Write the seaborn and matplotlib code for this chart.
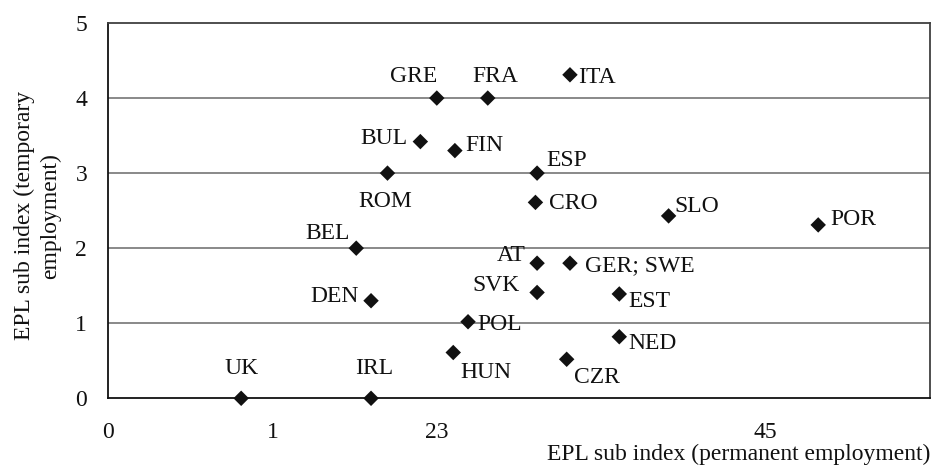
import matplotlib
matplotlib.use("Agg")
import matplotlib.pyplot as plt
import seaborn as sns
import pandas as pd

# ---- data ----
countries = ["UK", "IRL", "DEN", "BEL", "ROM", "BUL", "GRE", "FIN", "FRA", "ITA",
             "ESP", "CRO", "AT", "GER; SWE", "SVK", "POL", "HUN", "CZR", "EST",
             "NED", "SLO", "POR"]
perm = [0.81, 1.60, 1.60, 1.51, 1.70, 1.90, 2.00, 2.11, 2.31, 2.81,
        2.61, 2.60, 2.61, 2.81, 2.61, 2.19, 2.10, 2.79, 3.11,
        3.11, 3.41, 4.32]
temp = [0.00, 0.00, 1.30, 2.00, 3.00, 3.42, 4.00, 3.30, 4.00, 4.31,
        3.00, 2.61, 1.80, 1.80, 1.41, 1.02, 0.61, 0.52, 1.39,
        0.82, 2.43, 2.31]
x_ticks = [0, 1, 2, 3, 4, 5]
x_tick_labels = ["0", "1", "23", "", "45", ""]
y_ticks = [0, 1, 2, 3, 4, 5]

# label placement (pixels: right, up) -- layout only
label_offsets = {
    "GRE": (-23, 16), "FRA": (8, 16), "ITA": (27, -8), "BUL": (-36, -2),
    "FIN": (30, 0), "ESP": (30, 7), "ROM": (-2, -34), "CRO": (38, -7),
    "BEL": (-29, 9), "AT": (-26, 2), "GER; SWE": (70, -8), "SVK": (-41, 1),
    "DEN": (-36, -1), "EST": (30, -13), "POL": (32, -8), "NED": (33, -12),
    "HUN": (33, -25), "CZR": (30, -24), "IRL": (3, 24), "UK": (0, 24),
    "SLO": (28, 4), "POR": (35, 0),
}

df = pd.DataFrame({"country": countries, "perm": perm, "temp": temp})

sns.set_style("white")
plt.rcParams["font.family"] = ["Liberation Serif", "DejaVu Serif"]
FS = 17

fig = plt.figure(figsize=(9.32, 4.71), dpi=100)
W, H = 932, 471
ax = fig.add_axes([108 / W, (H - 398.3) / H, (930 - 108) / W, (398.3 - 23) / H])

for yv in y_ticks[1:-1]:
    ax.axhline(yv, color="#808080", lw=1.3, zorder=1)

sns.scatterplot(data=df, x="perm", y="temp", marker="D", s=62, color="#111111",
                edgecolor="none", ax=ax, zorder=3, clip_on=False, legend=False)

for c, xv, yv in zip(countries, perm, temp):
    dx, dy = label_offsets[c]
    ax.annotate(c, (xv, yv), xytext=(dx, dy), textcoords="offset pixels",
                ha="center", va="baseline", fontsize=FS, color="#111111")

ax.set_xlim(0, 5)
ax.set_ylim(0, 5)
ax.set_xticks(x_ticks)
ax.set_xticklabels(x_tick_labels)
ax.set_yticks(y_ticks)
ax.tick_params(axis="both", direction="out", length=6, width=1, color="#333333",
               labelsize=FS, labelcolor="#111111")
ax.tick_params(axis="x", pad=11)
ax.tick_params(axis="y", pad=9)

for side in ["left", "bottom"]:
    ax.spines[side].set_color("#111111")
    ax.spines[side].set_linewidth(1.3)
for side in ["top", "right"]:
    ax.spines[side].set_color("#404040")
    ax.spines[side].set_linewidth(1.3)

ax.set_xlabel("EPL sub index (permanent employment)", fontsize=FS, color="#111111")
ax.xaxis.set_label_coords(1.0, -0.122)
ax.xaxis.label.set_horizontalalignment("right")
ax.set_ylabel("EPL sub index (temporary\nemployment)", fontsize=FS, color="#111111",
              linespacing=1.3)
ax.yaxis.set_label_coords(-0.057, 0.486)

fig.savefig("out.png", dpi=100)
